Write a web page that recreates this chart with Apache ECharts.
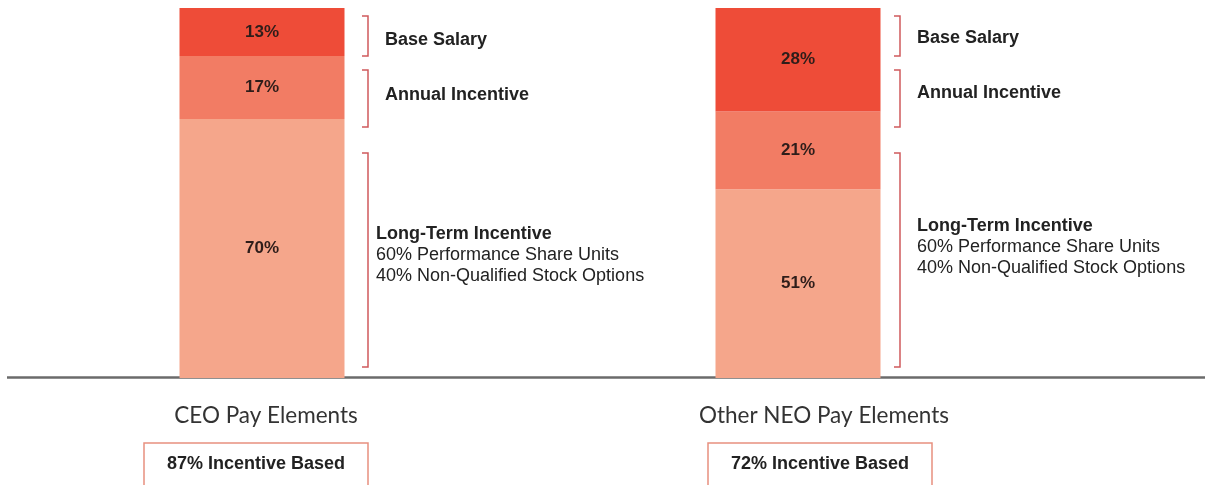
<!DOCTYPE html>
<html>
<head>
<meta charset="utf-8">
<title>Pay Elements</title>
<script src="https://cdn.jsdelivr.net/npm/echarts@6/dist/echarts.min.js"></script>
<style>
  html, body { margin: 0; padding: 0; background: #fff; }
  #chart { width: 1205px; height: 485px; }
</style>
</head>
<body>
<div id="chart"></div>
<script>
// data
const groups = ['CEO Pay Elements', 'Other NEO Pay Elements']
const elements = ['Base Salary', 'Annual Incentive', 'Long-Term Incentive']
const baseSalary = [13, 28]
const annualIncentive = [17, 21]
const longTermIncentive = [70, 51]
const incentiveBased = [87, 72]
const ltiDetail = ['60% Performance Share Units', '40% Non-Qualified Stock Options']

const colors = ['#ee4c38', '#f27c64', '#f5a68b']
const bracketColor = '#cf5a5c'
const textFont = '"Liberation Sans", Arial, sans-serif'

// layout of the two panels (annotation placement)
const panels = [
  { left: 8, width: 508, bracketX: 368, labelX: 385, ltiX: 376, baseY: 40, annualY: 95, ltiY: 224, boxX: 144, labelPad: 8 },
  { left: 516, width: 564, bracketX: 900, labelX: 917, ltiX: 917, baseY: 38, annualY: 93, ltiY: 216, boxX: 708, labelPad: 52 }
]
const bracketRanges = [[16, 56], [70, 127], [153, 367]]

const chart = echarts.init(document.getElementById('chart'))

const grid = panels.map(p => ({ left: p.left, width: p.width, top: 8, bottom: 107 }))

const xAxis = panels.map((p, i) => ({
  type: 'category',
  gridIndex: i,
  data: [groups[i]],
  axisLine: { show: false },
  axisTick: { show: false },
  axisLabel: {
    margin: 26,
    fontSize: 22.5,
    fontFamily: 'Lato, "Open Sans", sans-serif',
    color: '#333',
    padding: [0, 0, 0, p.labelPad]
  }
}))

const yAxis = panels.map((p, i) => ({
  type: 'value', gridIndex: i, min: 0, max: 100, show: false
}))

const series = []
panels.forEach((p, i) => {
  // stacked from the bottom: long-term, annual, base
  const parts = [longTermIncentive, annualIncentive, baseSalary]
  const partColors = [colors[2], colors[1], colors[0]]
  const partNames = [elements[2], elements[1], elements[0]]
  parts.forEach((arr, k) => {
    series.push({
      type: 'bar',
      name: partNames[k],
      xAxisIndex: i,
      yAxisIndex: i,
      stack: 'pay' + i,
      barWidth: 165,
      data: [arr[i]],
      itemStyle: { color: partColors[k] },
      label: {
        show: true,
        position: 'inside',
        formatter: '{c}%',
        fontSize: 17,
        fontWeight: 'bold',
        fontFamily: textFont,
        color: '#2e1d1a'
      },
      emphasis: { disabled: true }
    })
  })
})

const graphic = [{
  type: 'line',
  shape: { x1: 7, y1: 377.5, x2: 1205, y2: 377.5 },
  style: { stroke: '#6b6b6b', lineWidth: 2.5 },
  silent: true
}]

panels.forEach((p, i) => {
  bracketRanges.forEach(r => {
    graphic.push({
      type: 'polyline',
      shape: { points: [[p.bracketX - 6, r[0]], [p.bracketX, r[0]], [p.bracketX, r[1]], [p.bracketX - 6, r[1]]] },
      style: { stroke: bracketColor, lineWidth: 1.5, fill: null },
      silent: true
    })
  })
  graphic.push({
    type: 'text', x: p.labelX, y: p.baseY,
    style: { text: elements[0], font: 'bold 18px ' + textFont, fill: '#222', verticalAlign: 'middle' }
  })
  graphic.push({
    type: 'text', x: p.labelX, y: p.annualY,
    style: { text: elements[1], font: 'bold 18px ' + textFont, fill: '#222', verticalAlign: 'middle' }
  })
  graphic.push({
    type: 'text', x: p.ltiX, y: p.ltiY,
    style: {
      text: '{b|' + elements[2] + '}\n' + ltiDetail.join('\n'),
      fontSize: 18,
      fontFamily: textFont,
      fill: '#222',
      lineHeight: 21,
      rich: { b: { fontWeight: 'bold', fontSize: 18, fontFamily: textFont, lineHeight: 21, fill: '#222' } }
    }
  })
  graphic.push({
    type: 'rect',
    shape: { x: p.boxX, y: 443, width: 224, height: 50 },
    style: { fill: '#fff', stroke: '#e8907f', lineWidth: 1.5 },
    silent: true
  })
  graphic.push({
    type: 'text', x: p.boxX + 112, y: 464,
    style: {
      text: incentiveBased[i] + '% Incentive Based',
      font: 'bold 18px ' + textFont,
      fill: '#222',
      align: 'center',
      verticalAlign: 'middle'
    }
  })
})

chart.setOption({
  animation: false,
  grid,
  xAxis,
  yAxis,
  series,
  graphic
})

window.addEventListener('resize', () => chart.resize())
</script>
</body>
</html>
